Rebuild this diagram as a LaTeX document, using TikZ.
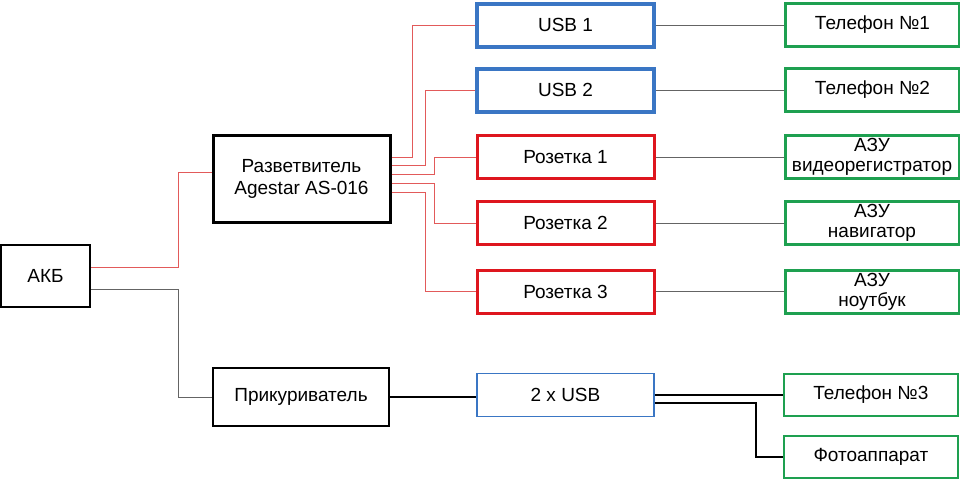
\documentclass[tikz,border=0pt]{standalone}
\usepackage{fontspec}
\setmainfont{Liberation Sans}
\usetikzlibrary{positioning}
\definecolor{usbblue}{RGB}{58,118,196}
\definecolor{sockred}{RGB}{222,22,30}
\definecolor{loadgreen}{RGB}{30,160,80}
\definecolor{wirered}{RGB}{226,90,90}
\definecolor{wiregray}{RGB}{100,100,100}
\def\myhdist{128pt}
\def\myvdist{18pt}
\tikzset{
my node/.style={rectangle,draw,minimum height=43pt,inner sep=1pt,align=center,
  font=\fontsize{19}{20}\selectfont},
src box/.style={my node,line width=2pt,minimum width=89pt,minimum height=62pt},
split box/.style={my node,line width=3pt,minimum width=177pt,minimum height=87pt,
  font=\fontsize{19}{22}\selectfont},
usb box/.style={my node,draw=usbblue,line width=4pt,minimum width=177pt},
sock box/.style={my node,draw=sockred,line width=3pt,minimum width=177pt},
load box/.style={my node,draw=loadgreen,line width=3pt,minimum width=174pt},
thin usb/.style={usb box,line width=1.8pt},
thin load/.style={load box,line width=2pt,minimum height=42pt},
red wire/.style={draw=wirered,line width=0.9pt},
gray wire/.style={draw=wiregray,line width=0.9pt},
black wire/.style={draw=black,line width=1.2pt}
}
\begin{document}
\begin{tikzpicture}[x=1pt,y=-1pt]
\useasboundingbox (0,0) rectangle (960,480);
% sources
\node[src box]   (akb)   at (45.5,276)  {АКБ};
\node[split box] (split) at (301.5,178.5) {Разветвитель\\Agestar AS-016};
\node[src box,minimum width=176pt,minimum height=58pt] (cig) at (301,397) {Прикуриватель};
% outlets
\node[usb box]  (usb1) at (565.5,25)   {USB 1};
\node[usb box]  (usb2) at (565.5,90)   {USB 2};
\node[sock box] (sock1) at (565.5,157)  {Розетка 1};
\node[sock box] (sock2) at (565.5,223)  {Розетка 2};
\node[sock box] (sock3) at (565.5,291.5) {Розетка 3};
\node[thin usb] (dual) at (565.5,395)  {2 x USB};
% consumers
\node[load box] (tel1) [right=\myhdist of usb1]  {Телефон №1};
\node[load box] (tel2) [right=\myhdist of usb2]  {Телефон №2};
\node[load box] (dvr)  [right=\myhdist of sock1] {АЗУ\\видеорегистратор};
\node[load box] (nav)  [right=\myhdist of sock2] {АЗУ\\навигатор};
\node[load box] (note) [right=\myhdist of sock3] {АЗУ\\ноутбук};
\node[thin load] (tel3) [right=\myhdist of dual] {Телефон №3};
\node[thin load] (photo) [below=\myvdist of tel3] {Фотоаппарат};

\path[red wire] ([yshift=9pt]akb.east) -- ++(87,0) |- ([yshift=6.5pt]split.west);
\path[gray wire] ([yshift=-13pt]akb.east) -- ++(87,0) |- (cig.west);

\path[red wire] ([yshift=21.5pt]split.east) -- ++(21,0) |- (usb1.west)
                ([yshift=13.5pt]split.east) -- ++(34,0) |- (usb2.west)
                ([yshift=4.5pt]split.east)  -- ++(43,0) |- (sock1.west)
                ([yshift=-4.5pt]split.east) -- ++(43,0) |- (sock2.west)
                ([yshift=-13.5pt]split.east) -- ++(34,0) |- (sock3.west);

\path[gray wire] (usb1) -- (tel1) (usb2) -- (tel2) (sock1) -- (dvr)
                 (sock2) -- (nav) (sock3) -- (note);

\path[black wire] (cig.east) -- (cig.east -| dual.west)
                  (tel3.west -| dual.east) -- (tel3.west)
                  ([yshift=-8pt]dual.east) -- ++(101,0) |- (photo.west);
\end{tikzpicture}
\end{document}
